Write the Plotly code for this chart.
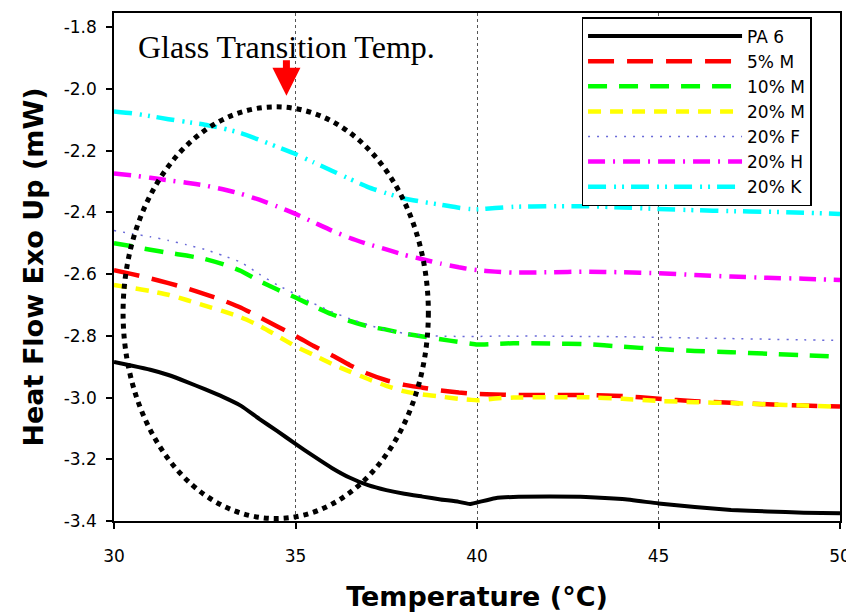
import plotly.graph_objects as go

# Temperature grid (°C)
temperature = [30, 30.5, 31, 31.5, 32, 32.5, 33, 33.5, 34, 34.5, 35, 35.5, 36, 36.5,
               37, 37.5, 38, 38.5, 39, 39.5, 39.8, 40, 40.5, 41, 42, 43, 44, 45,
               46, 47, 48, 49, 50]

pa6 = [-2.885, -2.897, -2.910, -2.927, -2.949, -2.973, -2.998, -3.027, -3.069, -3.109,
       -3.150, -3.190, -3.228, -3.260, -3.284, -3.300, -3.312, -3.321, -3.330, -3.338,
       -3.345, -3.340, -3.326, -3.322, -3.321, -3.322, -3.329, -3.343, -3.355, -3.364,
       -3.369, -3.373, -3.375]
m5 = [-2.587, -2.600, -2.614, -2.629, -2.646, -2.665, -2.685, -2.709, -2.739, -2.770,
      -2.800, -2.833, -2.863, -2.895, -2.923, -2.944, -2.959, -2.968, -2.977, -2.984,
      -2.987, -2.988, -2.990, -2.992, -2.992, -2.992, -2.995, -3.004, -3.012, -3.017,
      -3.022, -3.026, -3.029]
m10 = [-2.500, -2.510, -2.521, -2.531, -2.540, -2.551, -2.568, -2.590, -2.622, -2.650,
       -2.676, -2.704, -2.730, -2.752, -2.769, -2.780, -2.793, -2.802, -2.811, -2.820,
       -2.825, -2.828, -2.826, -2.824, -2.825, -2.827, -2.835, -2.843, -2.849, -2.853,
       -2.858, -2.863, -2.868]
m20 = [-2.635, -2.645, -2.655, -2.667, -2.684, -2.702, -2.720, -2.740, -2.767, -2.800,
       -2.834, -2.862, -2.891, -2.916, -2.940, -2.962, -2.980, -2.990, -2.997, -3.004,
       -3.007, -3.009, -3.003, -3.000, -2.999, -2.999, -3.004, -3.011, -3.015, -3.018,
       -3.022, -3.026, -3.030]
f20 = [-2.459, -2.469, -2.479, -2.491, -2.505, -2.520, -2.540, -2.562, -2.600, -2.635,
       -2.665, -2.695, -2.722, -2.745, -2.765, -2.781, -2.792, -2.798, -2.801, -2.802,
       -2.802, -2.802, -2.801, -2.801, -2.801, -2.802, -2.803, -2.805, -2.807, -2.809,
       -2.811, -2.813, -2.815]
h20 = [-2.274, -2.280, -2.288, -2.296, -2.304, -2.313, -2.325, -2.340, -2.359, -2.381,
       -2.405, -2.432, -2.459, -2.483, -2.503, -2.520, -2.538, -2.552, -2.566, -2.578,
       -2.584, -2.587, -2.592, -2.595, -2.594, -2.592, -2.594, -2.597, -2.603, -2.608,
       -2.612, -2.615, -2.619]
k20 = [-2.073, -2.079, -2.088, -2.098, -2.107, -2.116, -2.128, -2.143, -2.165, -2.188,
       -2.211, -2.238, -2.265, -2.292, -2.318, -2.338, -2.355, -2.366, -2.375, -2.385,
       -2.389, -2.390, -2.386, -2.382, -2.380, -2.380, -2.384, -2.389, -2.393, -2.396,
       -2.398, -2.401, -2.405]

series_names = ["PA 6", "5% M", "10% M", "20% M", "20% F", "20% H", "20% K"]
series_values = [pa6, m5, m10, m20, f20, h20, k20]
colors = ["#000000", "#ff0000", "#00ff00", "#ffff00", "#6a6ad8", "#ff00ff", "#00ffff"]
dashes = ["solid", "26px,13px", "19px,12px", "13px,9px", "2px,7px",
          "17px,8px,2px,8px", "18px,8px,2px,6px,2px,7px"]
widths = [4, 4.5, 4.5, 4.5, 1.5, 4.5, 4.5]

x_ticks = [30, 35, 40, 45, 50]
y_ticks = [-3.4, -3.2, -3.0, -2.8, -2.6, -2.4, -2.2, -2.0, -1.8]
y_tick_labels = ["-3.4", "-3.2", "-3.0", "-2.8", "-2.6", "-2.4", "-2.2", "-2.0", "-1.8"]
y_grid = [-3.2, -3.0, -2.8, -2.6, -2.4, -2.2, -2.0]

# Annotated glass-transition region (ellipse bounds) and arrow target
ellipse_x = [30.25, 38.66]
ellipse_y = [-3.392, -2.058]
tg_x = 34.75

fig = go.Figure()
for name, vals, c, d, w in zip(series_names, series_values, colors, dashes, widths):
    fig.add_trace(go.Scatter(x=temperature, y=vals, name=name, mode="lines",
                             line=dict(color=c, dash=d, width=w,
                                       shape="spline", smoothing=0.5)))

tick_font = dict(family="DejaVu Sans", size=17, color="black")
title_font = dict(family="DejaVu Sans", size=27, color="black", weight="bold")

fig.update_layout(
    width=846, height=605,
    margin=dict(l=106, r=12, t=3, b=92),
    plot_bgcolor="white", paper_bgcolor="white",
    showlegend=True,
    legend=dict(x=0.644, y=0.992, xanchor="left", yanchor="top",
                bgcolor="white", bordercolor="black", borderwidth=1.5,
                font=dict(family="DejaVu Sans", size=17, color="black"),
                itemwidth=154, tracegroupgap=0),
    xaxis=dict(range=[30, 50], tickvals=x_ticks, ticks="outside", ticklen=6,
               tickcolor="black", tickwidth=1.5, showline=True, linecolor="black",
               linewidth=1.5, mirror=True, showgrid=True, gridcolor="#555555",
               griddash="dot", gridwidth=1, zeroline=False, tickfont=tick_font,
               ticklabelstandoff=13,
               title=dict(text="Temperature (°C)", font=title_font, standoff=22)),
    yaxis=dict(range=[-3.4, -1.754], tickvals=y_ticks, ticktext=y_tick_labels,
               ticks="outside", ticklen=6, tickcolor="black", tickwidth=1.5,
               showline=True, linecolor="black", linewidth=1.5, mirror=True,
               showgrid=False, zeroline=False, tickfont=tick_font,
               ticklabelstandoff=6,
               title=dict(text="Heat Flow Exo Up (mW)", font=title_font, standoff=12)),
    yaxis2=dict(range=[-3.4, -1.754], overlaying="y", tickvals=y_grid,
                showticklabels=False, ticks="", showline=False, showgrid=True,
                gridcolor="#555555", griddash="dot", gridwidth=1, zeroline=False),
)

fig.add_shape(type="circle", xref="x", yref="y",
              x0=ellipse_x[0], x1=ellipse_x[1], y0=ellipse_y[0], y1=ellipse_y[1],
              line=dict(color="black", width=5, dash="dot"), layer="above")

fig.add_annotation(x=tg_x, y=-1.864, xref="x", yref="y", text="Glass Transition Temp.",
                   showarrow=False, font=dict(family="Liberation Serif", size=32, color="black"),
                   xanchor="center", yanchor="middle")
fig.add_annotation(x=tg_x, y=-2.022, xref="x", yref="y", text="",
                   showarrow=True, ax=0, ay=-37, arrowhead=2, arrowwidth=7,
                   arrowsize=0.8, arrowcolor="red")

fig.write_html("out.html")
